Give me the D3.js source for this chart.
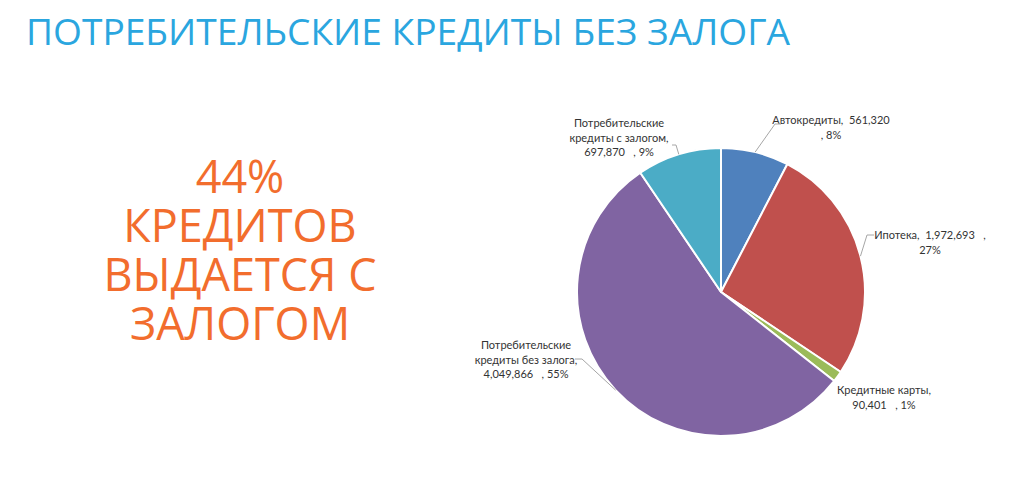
<!DOCTYPE html>
<html><head><meta charset="utf-8">
<script src="https://cdn.jsdelivr.net/npm/d3@7"></script>
<style>
html,body{margin:0;padding:0;background:#fff;}
svg{display:block;}
.lab text{white-space:pre;}
</style>
</head><body>
<svg id="c" width="1023" height="485"></svg>
<script>
// ---- data ----
const categories = ["Автокредиты", "Ипотека", "Кредитные карты", "Потребительские кредиты без залога", "Потребительские кредиты с залогом"];
const values = [561320, 1972693, 90401, 4049866, 697870];
const colors = ["#4f81bd", "#c0504d", "#9bbb59", "#8064a2", "#4bacc6"];
const labelLines = [
  ["Автокредиты,  {v}", ", {p}"],
  ["Ипотека,  {v}   ,", "{p}"],
  ["Кредитные карты,", "{v}   , {p}"],
  ["Потребительские", "кредиты без залога,", "{v}   , {p}"],
  ["Потребительские", "кредиты с залогом,", "{v}   , {p}"]
];
const titleText = "ПОТРЕБИТЕЛЬСКИЕ КРЕДИТЫ БЕЗ ЗАЛОГА";
const sideLines = ["44%", "КРЕДИТОВ", "ВЫДАЕТСЯ С", "ЗАЛОГОМ"];

// ---- layout ----
const W = 1023, H = 485;
const cx = 721, cy = 292, R = 144;
const labelPos = [
  {x: 831, y: 124, elbow: [775, 124], end: [781, 124]},
  {x: 930, y: 239, elbow: [867, 235], end: [874, 235]},
  {x: 884, y: 394, elbow: null},
  {x: 526, y: 349, elbow: [582, 359], end: [575, 359]},
  {x: 619, y: 127, elbow: [676, 145], end: [672, 145]}
];
const lineH = 14.6;

const svg = d3.select("#c");

svg.append("text")
  .attr("x", 26).attr("y", 45)
  .attr("font-family", "'Open Sans', sans-serif")
  .attr("font-size", 36)
  .attr("fill", "#2aa6df")
  .attr("textLength", 764)
  .attr("lengthAdjust", "spacingAndGlyphs")
  .text(titleText);

const side = svg.append("g").attr("font-family", "'Open Sans', sans-serif")
  .attr("font-size", 45).attr("fill", "#f26d2d").attr("text-anchor", "middle");
sideLines.forEach((t, i) => {
  side.append("text").attr("x", 240).attr("y", 193 + i * 49).text(t);
});

const total = d3.sum(values);
const pie = d3.pie().sort(null).value(d => d).startAngle(0).endAngle(2 * Math.PI);
const arcs = pie(values);
const arc = d3.arc().innerRadius(0).outerRadius(R);

const g = svg.append("g").attr("transform", `translate(${cx},${cy})`);
g.selectAll("path").data(arcs).join("path")
  .attr("d", arc)
  .attr("fill", (d, i) => colors[i])
  .attr("stroke", "#fff").attr("stroke-width", 2).attr("stroke-linejoin", "round");

const fmt = d3.format(",");
const lab = svg.append("g").attr("class", "lab").attr("font-family", "Lato, 'Open Sans', sans-serif")
  .attr("font-size", 11).attr("fill", "#333");

arcs.forEach((d, i) => {
  const p = labelPos[i];
  const pct = Math.round(d.value / total * 100) + "%";
  if (p.elbow) {
    const a = (d.startAngle + d.endAngle) / 2;
    const sx = cx + Math.sin(a) * R, sy = cy - Math.cos(a) * R;
    svg.append("polyline")
      .attr("points", [[sx, sy], p.elbow, p.end].map(q => q.join(",")).join(" "))
      .attr("fill", "none").attr("stroke", "#a6a6a6").attr("stroke-width", 1);
  }
  const t = lab.append("text").attr("text-anchor", "middle");
  labelLines[i].forEach((ln, j) => {
    t.append("tspan").attr("x", p.x).attr("y", p.y + j * lineH)
      .text(ln.replace("{v}", fmt(d.value)).replace("{p}", pct));
  });
});
</script>
</body></html>
